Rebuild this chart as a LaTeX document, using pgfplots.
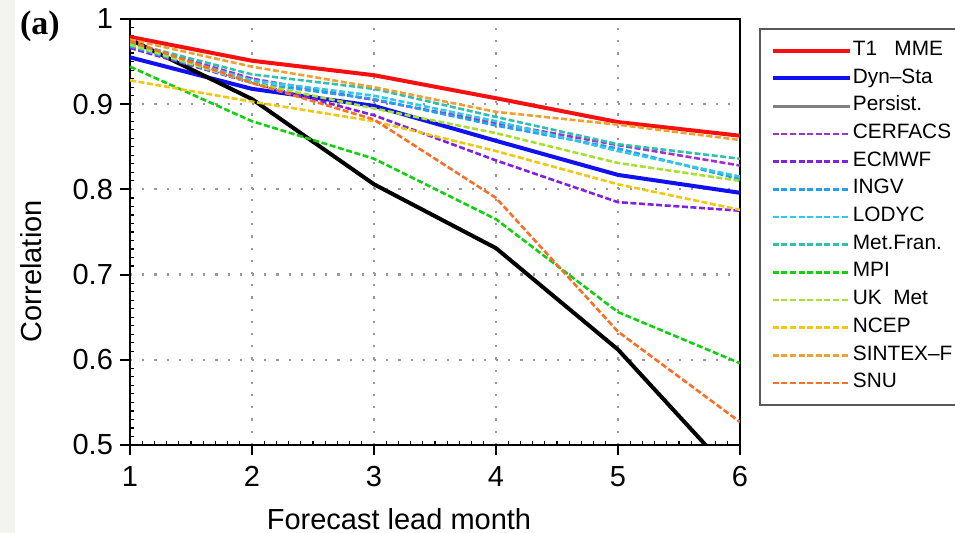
\documentclass[border=0pt]{standalone}
\usepackage{pgfplots}
\pgfplotsset{compat=1.18}
\usepackage{fontspec}
\setmainfont{Liberation Sans}
\newfontfamily\serifb{Liberation Serif}
\usetikzlibrary{calc}

\definecolor{cMME}{HTML}{F81010}
\definecolor{cDyn}{HTML}{1010F0}
\definecolor{cCERF}{HTML}{A030D0}
\definecolor{cECM}{HTML}{8020E0}
\definecolor{cINGV}{HTML}{20A0F0}
\definecolor{cLOD}{HTML}{30C8E8}
\definecolor{cMETF}{HTML}{30C0B0}
\definecolor{cMPI}{HTML}{10D010}
\definecolor{cUKM}{HTML}{A8E030}
\definecolor{cNCEP}{HTML}{F0C810}
\definecolor{cSINT}{HTML}{F0A030}
\definecolor{cSNU}{HTML}{F87028}
\definecolor{bgband}{HTML}{F3F3EF}

\begin{document}
\begin{tikzpicture}
\begin{axis}[
    name=ax,
    scale only axis,
    width=305pt, height=213pt,
    xmin=1, xmax=6, ymin=0.5, ymax=1,
    xtick={1,2,3,4,5,6},
    ytick={0.5,0.6,0.7,0.8,0.9,1},
    yticklabels={0.5,0.6,0.7,0.8,0.9,1},
    /pgf/number format/assume math mode=true,
    xtick pos=left, ytick pos=left,
    tick align=outside,
    major tick length=5pt,
    minor x tick num=9, minor y tick num=9,
    minor tick length=-2pt,
    every tick/.style={black, line width=1pt},
    minor tick style={line width=0.6pt},
    axis line style={line width=1pt},
    ticklabel style={font=\fontsize{14.5}{16}\selectfont},
    xticklabel style={yshift=-2pt},
    xmajorgrids, ymajorgrids,
    grid style={gray!80, line width=1.1pt, dash pattern=on 1.1pt off 5pt},
    xlabel={Forecast lead month},
    ylabel={Correlation},
    label style={font=\fontsize{14.5}{16}\selectfont},
    xlabel style={at={(axis description cs:0.441,-0.1995)}, anchor=base},
    ylabel style={at={(axis description cs:-0.162,0.408)}, anchor=center},
    legend cell align=left,
    legend image code/.code={\draw (0pt,0pt) -- (38.5pt,0pt);},
    legend style={
        at={(axis description cs:1.031,0.979)}, anchor=north west,
        draw=black!65, line width=1pt, fill=white,
        inner xsep=5.5pt, inner ysep=4pt,
        font=\fontsize{10.4}{12}\selectfont,
        row sep=0pt, column sep=0.5pt,
        nodes={inner xsep=0pt, inner ysep=0pt, text height=9.2pt, text depth=4.65pt},
    },
    dsh/.style={line width=1.3pt, dash pattern=on 3pt off 1.3pt},
]
\addplot[cMME, line width=2pt] coordinates {(1,0.979)(2,0.951)(3,0.934)(4,0.907)(5,0.879)(6,0.863)};
\addlegendentry{T1~~~MME}
\addplot[cDyn, line width=2pt] coordinates {(1,0.955)(2,0.918)(3,0.898)(4,0.857)(5,0.817)(6,0.796)};
\addlegendentry{Dyn--Sta}
\addplot[black, line width=2pt, legend image post style={gray, line width=1.5pt}] coordinates {(1,0.976)(2,0.906)(3,0.806)(4,0.731)(5,0.612)(6,0.456)};
\addlegendentry{Persist.}
\addplot[cCERF, dsh] coordinates {(1,0.972)(2,0.930)(3,0.905)(4,0.878)(5,0.852)(6,0.828)};
\addlegendentry{CERFACS}
\addplot[cECM, dsh] coordinates {(1,0.966)(2,0.925)(3,0.887)(4,0.834)(5,0.785)(6,0.775)};
\addlegendentry{ECMWF}
\addplot[cINGV, dsh] coordinates {(1,0.968)(2,0.925)(3,0.906)(4,0.875)(5,0.848)(6,0.812)};
\addlegendentry{INGV}
\addplot[cLOD, dsh] coordinates {(1,0.970)(2,0.928)(3,0.910)(4,0.880)(5,0.845)(6,0.815)};
\addlegendentry{LODYC}
\addplot[cMETF, dsh] coordinates {(1,0.972)(2,0.935)(3,0.918)(4,0.885)(5,0.853)(6,0.836)};
\addlegendentry{Met.Fran.}
\addplot[cMPI, dsh] coordinates {(1,0.944)(2,0.880)(3,0.836)(4,0.765)(5,0.656)(6,0.596)};
\addlegendentry{MPI}
\addplot[cUKM, dsh] coordinates {(1,0.970)(2,0.925)(3,0.895)(4,0.866)(5,0.831)(6,0.810)};
\addlegendentry{UK~~Met}
\addplot[cNCEP, dsh] coordinates {(1,0.928)(2,0.903)(3,0.880)(4,0.845)(5,0.806)(6,0.776)};
\addlegendentry{NCEP}
\addplot[cSINT, dsh] coordinates {(1,0.976)(2,0.944)(3,0.920)(4,0.891)(5,0.876)(6,0.858)};
\addlegendentry{SINTEX--F}
\addplot[cSNU, dsh] coordinates {(1,0.974)(2,0.925)(3,0.882)(4,0.790)(5,0.633)(6,0.527)};
\addlegendentry{SNU}
\end{axis}
\fill[bgband] ($(ax.south west)+(-65pt,-44pt)$) rectangle ($(ax.south west)+(-57.5pt,222.5pt)$);
\node[font=\serifb\bfseries\fontsize{17}{20}\selectfont] at ($(ax.south west)+(-45pt,209.5pt)$) {(a)};
\pgfresetboundingbox
\path[use as bounding box] ($(ax.south west)+(-65pt,-44pt)$) rectangle ($(ax.south west)+(412.5pt,222.5pt)$);
\end{tikzpicture}
\end{document}
